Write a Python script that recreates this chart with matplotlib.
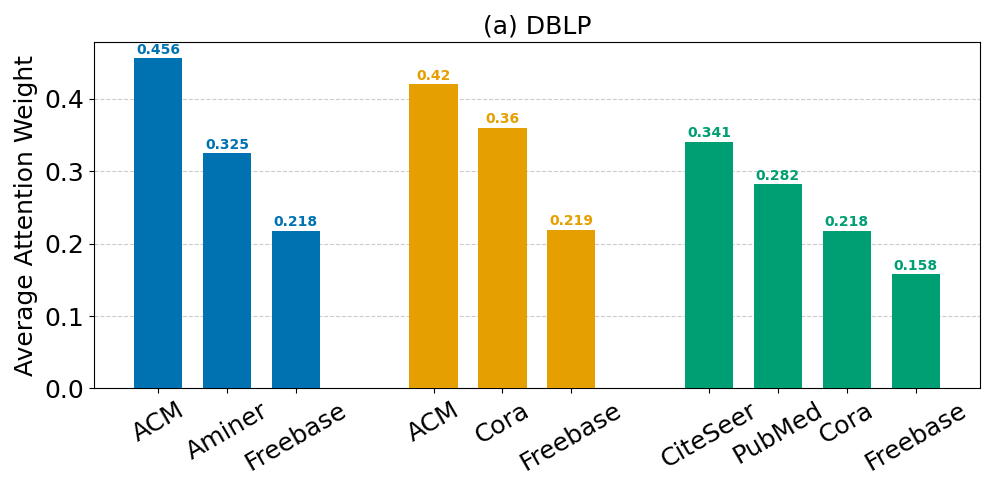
import numpy as np
import matplotlib.pyplot as plt

labels = ["ACM", "Aminer", "Freebase",
          "ACM", "Cora", "Freebase",
          "CiteSeer", "PubMed", "Cora", "Freebase"]
weights = [0.456, 0.325, 0.218,
           0.42, 0.36, 0.219,
           0.341, 0.282, 0.218, 0.158]
group_sizes = [3, 3, 4]
group_colors = ["#0072B2", "#E69F00", "#009E73"]

# positions with one empty slot between groups
positions = []
colors = []
start = 0
for n, c in zip(group_sizes, group_colors):
    positions += list(range(start, start + n))
    colors += [c] * n
    start += n + 1
positions = np.array(positions)

fig, ax = plt.subplots(figsize=(9.96, 4.98), dpi=100)
bars = ax.bar(positions, weights, width=0.7, color=colors, zorder=3)
for b, v, c in zip(bars, weights, colors):
    ax.text(b.get_x() + b.get_width() / 2, v + 0.002, str(v), ha="center", va="bottom",
            fontsize=10, fontweight="bold", color=c, zorder=4)

ax.set_xticks(positions)
ax.set_xticklabels(labels, rotation=30, ha="center", fontsize=18)
ax.tick_params(axis="y", labelsize=18)
ax.set_ylabel("Average Attention Weight", fontsize=18)
ax.set_title("(a) DBLP", fontsize=18)
ax.yaxis.grid(True, linestyle="--", color="#cccccc", zorder=0)
ax.set_yticks([0.0, 0.1, 0.2, 0.3, 0.4])

plt.subplots_adjust(left=0.094, right=0.984, top=0.916, bottom=0.22)
plt.savefig("out.png")
